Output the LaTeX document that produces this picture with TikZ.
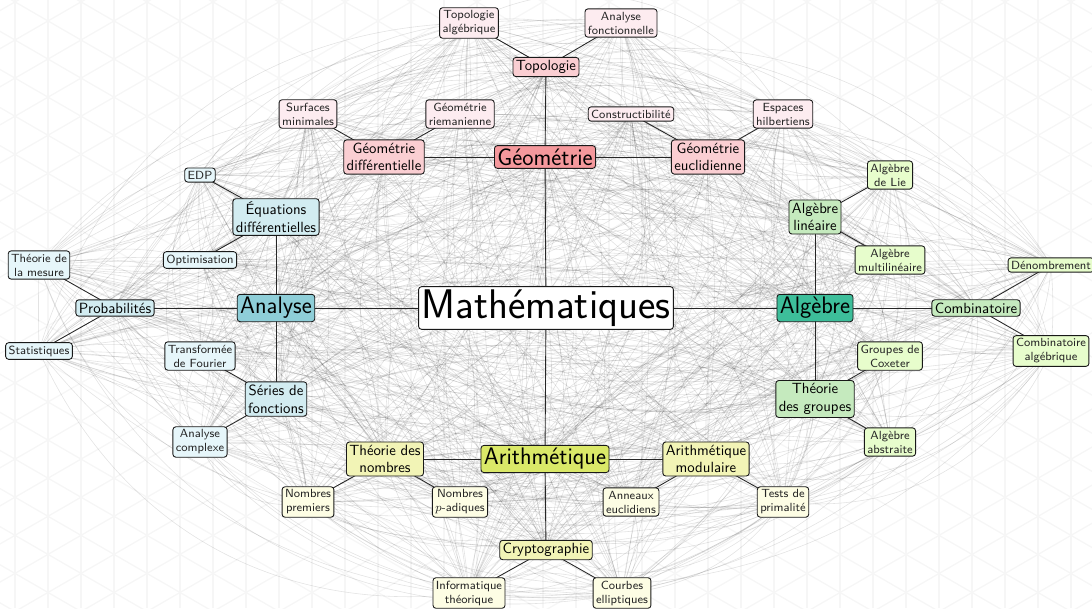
\documentclass[tikz,border=0pt]{standalone}
\usepackage{fontspec}
\usetikzlibrary{backgrounds}
\pgfdeclarelayer{gridlayer}
\pgfdeclarelayer{weblayer}
\pgfsetlayers{gridlayer,weblayer,main}
\definecolor{geoA}{RGB}{244,152,156}
\definecolor{geoB}{RGB}{250,206,210}
\definecolor{geoC}{RGB}{253,236,240}
\definecolor{anaA}{RGB}{142,206,216}
\definecolor{anaB}{RGB}{210,236,241}
\definecolor{anaC}{RGB}{230,246,250}
\definecolor{algA}{RGB}{61,190,154}
\definecolor{algB}{RGB}{197,234,190}
\definecolor{algC}{RGB}{231,253,204}
\definecolor{ariA}{RGB}{218,232,104}
\definecolor{ariB}{RGB}{242,244,182}
\definecolor{ariC}{RGB}{253,253,228}
\definecolor{gridgray}{RGB}{246,246,246}
\tikzset{
  box/.style={draw=black!90, line width=0.6pt, rounded corners=2pt, inner sep=0.2em, align=center, font=\sffamily},
  root/.style={box, fill=white, font=\sffamily\fontsize{28}{33}\selectfont},
  lvlA/.style={box, font=\sffamily\fontsize{16.2}{19}\selectfont},
  lvlB/.style={box, font=\sffamily\normalsize},
  lvlC/.style={box, font=\sffamily\footnotesize, text=black!85},
  tree/.style={draw=black!85, line width=0.6pt},
  web/.style={draw=black, opacity=0.11, line width=0.4pt},
  gridline/.style={draw=gridgray, line width=0.9pt}
}
\begin{document}
\begin{tikzpicture}[x=0.677pt, y=-0.677pt]
\useasboundingbox (0,0) rectangle (1092,608);
% nodes
\node[root] (math) at (546,308) {Mathématiques};
\node[lvlA, fill=geoA] (geo) at (545,157) {Géométrie};
\node[lvlB, fill=geoB] (top) at (546,67) {Topologie};
\node[lvlC, fill=geoC] (topalg) at (469,23) {Topologie\\algébrique};
\node[lvlC, fill=geoC] (anafonc) at (621,23) {Analyse\\fonctionnelle};
\node[lvlB, fill=geoB] (gdiff) at (384,157) {Géométrie\\différentielle};
\node[lvlC, fill=geoC] (surf) at (308,114) {Surfaces\\minimales};
\node[lvlC, fill=geoC] (riem) at (460,114) {Géométrie\\riemanienne};
\node[lvlB, fill=geoB] (geucl) at (708,157) {Géométrie\\euclidienne};
\node[lvlC, fill=geoC] (constr) at (631,114) {Constructibilité};
\node[lvlC, fill=geoC] (hilb) at (783,114) {Espaces\\hilbertiens};
\node[lvlA, fill=anaA] (ana) at (276,308) {Analyse};
\node[lvlB, fill=anaB] (eqd) at (276,217) {Équations\\différentielles};
\node[lvlC, fill=anaC] (edp) at (200,175) {EDP};
\node[lvlC, fill=anaC] (optim) at (200,260) {Optimisation};
\node[lvlB, fill=anaB] (proba) at (115,308) {Probabilités};
\node[lvlC, fill=anaC] (mesure) at (39,265) {Théorie de\\la mesure};
\node[lvlC, fill=anaC] (stats) at (39,351) {Statistiques};
\node[lvlB, fill=anaB] (series) at (276,399) {Séries de\\fonctions};
\node[lvlC, fill=anaC] (fourier) at (200,356) {Transformée\\de Fourier};
\node[lvlC, fill=anaC] (cplx) at (200,442) {Analyse\\complexe};
\node[lvlA, fill=algA] (alg) at (815,308) {Algèbre};
\node[lvlB, fill=algB] (alin) at (815,217) {Algèbre\\linéaire};
\node[lvlC, fill=algC] (lie) at (890,175) {Algèbre\\de Lie};
\node[lvlC, fill=algC] (multi) at (890,260) {Algèbre\\multilinéaire};
\node[lvlB, fill=algB] (comb) at (976,308) {Combinatoire};
\node[lvlC, fill=algC] (denom) at (1051,265) {Dénombrement};
\node[lvlC, fill=algC] (combalg) at (1051,351) {Combinatoire\\algébrique};
\node[lvlB, fill=algB] (tgr) at (815,399) {Théorie\\des groupes};
\node[lvlC, fill=algC] (coxeter) at (890,356) {Groupes de\\Coxeter};
\node[lvlC, fill=algC] (abstr) at (890,442) {Algèbre\\abstraite};
\node[lvlA, fill=ariA] (arith) at (545,459) {Arithmétique};
\node[lvlB, fill=ariB] (tnb) at (385,459) {Théorie des\\nombres};
\node[lvlC, fill=ariC] (prem) at (308,502) {Nombres\\premiers};
\node[lvlC, fill=ariC] (padic) at (460,502) {Nombres\\$p$-adiques};
\node[lvlB, fill=ariB] (amod) at (706,459) {Arithmétique\\modulaire};
\node[lvlC, fill=ariC] (ann) at (631,502) {Anneaux\\euclidiens};
\node[lvlC, fill=ariC] (tests) at (783,502) {Tests de\\primalité};
\node[lvlB, fill=ariB] (crypto) at (546,550) {Cryptographie};
\node[lvlC, fill=ariC] (info) at (469,593) {Informatique\\théorique};
\node[lvlC, fill=ariC] (courbes) at (622,593) {Courbes\\elliptiques};
% background grid
\begin{pgfonlayer}{gridlayer}
  \clip (0,0) rectangle (1092,608);
  \foreach \i in {0,...,33} \draw[gridline] ({15+33*\i},0) -- ({15+33*\i},608);
  \foreach \k in {-1,...,33} \draw[gridline] (-50,{39.43+38.1*\k}) -- (1150,{-653.2+38.1*\k});
  \foreach \k in {-17,...,17} \draw[gridline] (-50,{2.47+38.1*\k}) -- (1150,{695.3+38.1*\k});
\end{pgfonlayer}
% web of links
\def\allnodes{geo,top,topalg,anafonc,gdiff,surf,riem,geucl,constr,hilb,ana,eqd,edp,optim,proba,mesure,stats,series,fourier,cplx,alg,alin,lie,multi,comb,denom,combalg,tgr,coxeter,abstr,arith,tnb,prem,padic,amod,ann,tests,crypto,info,courbes}
\pgfmathsetseed{7}
\begin{pgfonlayer}{weblayer}
  \foreach \a [count=\i] in \allnodes {
    \foreach \b [count=\j] in \allnodes {
      \ifnum\j>\i
        \pgfmathsetmacro\bnd{rand*45}
        \draw[web] (\a.center) to[bend left=\bnd] (\b.center);
      \fi
    }
  }
  % tree
  \foreach \p/\c in {math/geo,math/ana,math/alg,math/arith,
    geo/top,geo/gdiff,geo/geucl,top/topalg,top/anafonc,gdiff/surf,gdiff/riem,geucl/constr,geucl/hilb,
    ana/eqd,ana/proba,ana/series,eqd/edp,eqd/optim,proba/mesure,proba/stats,series/fourier,series/cplx,
    alg/alin,alg/comb,alg/tgr,alin/lie,alin/multi,comb/denom,comb/combalg,tgr/coxeter,tgr/abstr,
    arith/tnb,arith/amod,arith/crypto,tnb/prem,tnb/padic,amod/ann,amod/tests,crypto/info,crypto/courbes}
    \draw[tree] (\p.center) -- (\c.center);
\end{pgfonlayer}
\end{tikzpicture}
\end{document}
